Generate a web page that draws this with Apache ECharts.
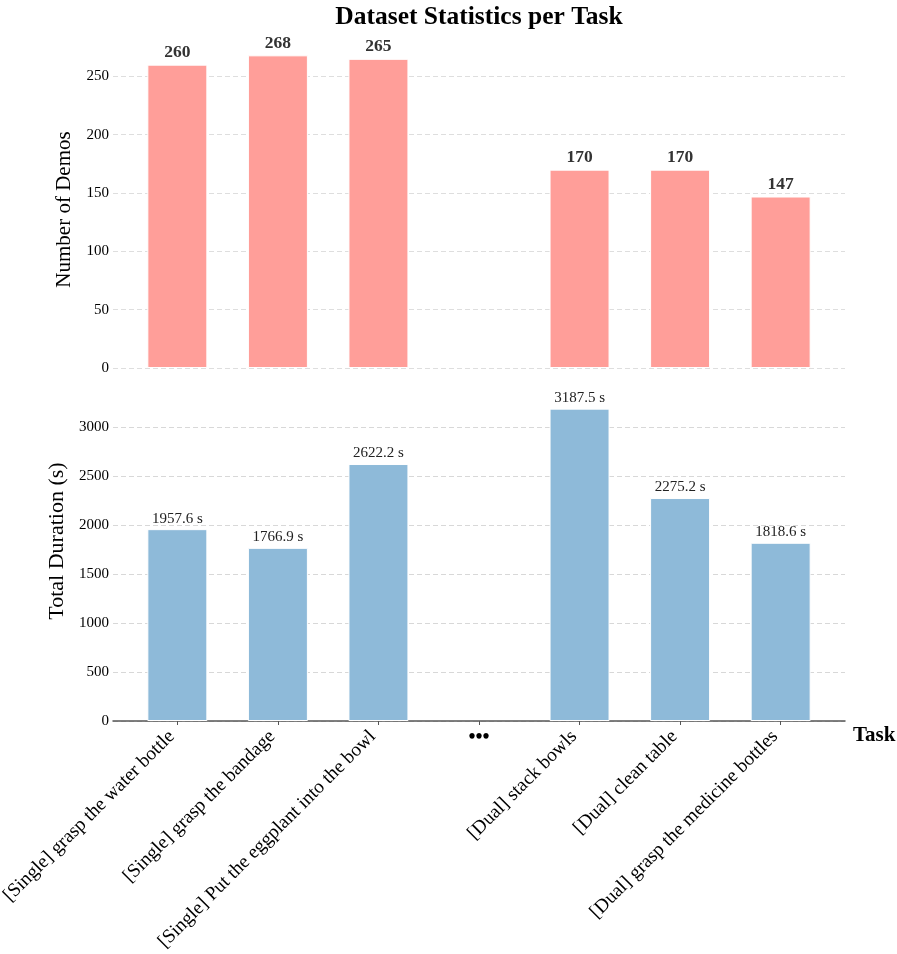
<!DOCTYPE html>
<html><head><meta charset="utf-8">
<script src="https://cdn.jsdelivr.net/npm/echarts@6/dist/echarts.min.js"></script>
<style>html,body{margin:0;padding:0;background:#fff}#c{width:897px;height:954px}</style>
</head><body><div id="c"></div>
<script>
const categories = ["[Single] grasp the water bottle", "[Single] grasp the bandage", "[Single] Put the eggplant into the bowl", "...", "[Dual] stack bowls", "[Dual] clean table", "[Dual] grasp the medicine bottles"];
const demos = [260, 268, 265, null, 170, 170, 147];
const durations = [1957.6, 1766.9, 2622.2, null, 3187.5, 2275.2, 1818.6];
const catIndex = categories.map((c, i) => i);
const realIdx = catIndex.filter(i => categories[i] !== "...");
const gapIdx = catIndex.filter(i => categories[i] === "...");

const FONT = "Liberation Serif";
const xMin = -0.64, xMax = categories.length - 1 + 0.64;
const chart = echarts.init(document.getElementById('c'));
const splitDash = (w, c) => ({show: true, showMaxLine: false, lineStyle: {color: c, type: [5, 3], width: w}});

chart.setOption({
  animation: false,
  textStyle: {fontFamily: FONT},
  title: {text: "Dataset Statistics per Task", left: 474, textAlign: 'center', top: -1,
    textStyle: {fontFamily: FONT, fontWeight: 'bold', fontSize: 25.5, color: '#000'}},
  grid: [
    {left: 113, right: 52, top: 39, height: 329, outerBoundsMode: 'none', containLabel: false},
    {left: 113, right: 52, top: 393, height: 328, outerBoundsMode: 'none', containLabel: false}
  ],
  xAxis: [
    {type: 'value', gridIndex: 0, min: xMin, max: xMax, show: false},
    {type: 'value', gridIndex: 1, min: xMin, max: xMax,
      splitLine: {show: false},
      axisLine: {show: true, onZero: false, lineStyle: {color: '#555', width: 1.5}},
      axisTick: {show: true, customValues: realIdx, length: 4, lineStyle: {color: '#555'}},
      axisLabel: {customValues: realIdx, rotate: 45, fontSize: 19.3, color: '#000', margin: 7, padding: [0, 8, 0, 0],
        fontFamily: FONT, formatter: v => categories[Math.round(v)]},
      name: "Task", nameLocation: 'end', nameGap: 8,
      nameTextStyle: {fontFamily: FONT, fontWeight: 'bold', fontSize: 21, color: '#000', verticalAlign: 'top', padding: [4, 0, 0, 0]}
    },
    {type: 'value', gridIndex: 1, min: xMin, max: xMax, position: 'bottom',
      splitLine: {show: false}, axisLine: {show: false},
      axisTick: {show: true, customValues: gapIdx, length: 4, lineStyle: {color: '#555'}},
      axisLabel: {customValues: gapIdx, rotate: 0, fontSize: 20, fontWeight: 'bold', color: '#000', margin: 7,
        fontFamily: FONT, formatter: () => "•••"}
    }
  ],
  yAxis: [
    {type: 'value', gridIndex: 0, min: 0, max: 282, interval: 50,
      axisLine: {show: false}, axisTick: {show: false},
      axisLabel: {fontSize: 15, color: '#000', margin: 4, showMaxLabel: false, fontFamily: FONT, formatter: v => String(v)},
      splitLine: splitDash(1, '#dedede'),
      name: "Number of Demos", nameLocation: 'middle', nameGap: 38,
      nameTextStyle: {fontFamily: FONT, fontSize: 21, color: '#000', padding: [0, 12, 0, 0]}},
    {type: 'value', gridIndex: 1, min: 0, max: 3347, interval: 500,
      axisLine: {show: false}, axisTick: {show: false},
      axisLabel: {fontSize: 15, color: '#000', margin: 4, showMaxLabel: false, fontFamily: FONT, formatter: v => String(v)},
      splitLine: splitDash(1.2, '#d8d8d8'),
      name: "Total Duration (s)", nameLocation: 'middle', nameGap: 42,
      nameTextStyle: {fontFamily: FONT, fontSize: 22, color: '#000', padding: [0, 0, 0, 32]}}
  ],
  series: [
    {type: 'bar', xAxisIndex: 0, yAxisIndex: 0, barWidth: 60,
      data: demos.map((v, i) => [i, v]),
      itemStyle: {color: '#FF9E99', borderColor: '#fff', borderWidth: 1},
      label: {show: true, position: 'top', distance: 3, fontFamily: FONT, fontWeight: 'bold', fontSize: 17.5, color: '#333',
        formatter: p => p.value[1] == null ? '' : String(p.value[1])}},
    {type: 'bar', xAxisIndex: 1, yAxisIndex: 1, barWidth: 60,
      data: durations.map((v, i) => [i, v]),
      itemStyle: {color: '#8EBAD9', borderColor: '#fff', borderWidth: 1},
      label: {show: true, position: 'top', distance: 3, fontFamily: FONT, fontSize: 15, color: '#222',
        formatter: p => p.value[1] == null ? '' : p.value[1].toFixed(1) + ' s'}}
  ]
});
</script></body></html>
